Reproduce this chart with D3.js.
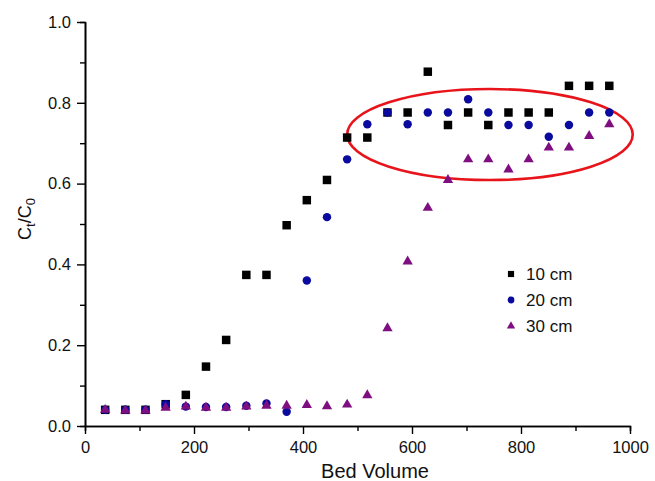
<!DOCTYPE html>
<html lang="en">
<head>
<meta charset="UTF-8">
<title>Breakthrough curves</title>
<script src="https://cdn.jsdelivr.net/npm/d3@7"></script>
<style>
    body { margin: 0; background: #fff; }
    text { font-family: "Liberation Sans", Arial, sans-serif; fill: #111; }
</style>
</head>
<body>
<div id="viz"></div>
<script>
    // bed volumes (shared by all three series)
    const bedVolume = [37, 74, 111, 148, 185, 222, 259, 296, 333, 370, 407, 444, 481,
                       518, 555, 592, 629, 666, 703, 740, 777, 814, 851, 888, 925, 962]

    // Ct/C0
    const cm10 = [0.040, 0.040, 0.040, 0.054, 0.077, 0.147, 0.213, 0.374, 0.374, 0.497, 0.559, 0.609, 0.714,
                  0.714, 0.776, 0.776, 0.877, 0.745, 0.776, 0.745, 0.776, 0.776, 0.776, 0.842, 0.842, 0.842]
    const cm20 = [0.040, 0.040, 0.040, 0.054, 0.048, 0.047, 0.047, 0.050, 0.056, 0.035, 0.360, 0.517, 0.660,
                  0.747, 0.776, 0.747, 0.776, 0.776, 0.809, 0.776, 0.745, 0.745, 0.716, 0.745, 0.776, 0.776]
    const cm30 = [0.040, 0.038, 0.038, 0.045, 0.048, 0.045, 0.045, 0.048, 0.050, 0.050, 0.052, 0.049, 0.053,
                  0.076, 0.242, 0.407, 0.540, 0.609, 0.660, 0.660, 0.635, 0.660, 0.689, 0.689, 0.718, 0.747]

    const seriesNames = ["10 cm", "20 cm", "30 cm"]
    const xTicks = [0, 200, 400, 600, 800, 1000]
    const yTicks = [0.0, 0.2, 0.4, 0.6, 0.8, 1.0]

    // highlighted region (data units): centre and radii
    const ellipseCentre = [743, 0.7215]
    const ellipseRadii = [262, 0.1126]

    const width = 655
    const height = 481
    const margin = {top: 22, left: 85, right: 25, bottom: 55}

    const svg = d3.select("#viz")
        .append("svg")
        .attr("width", width)
        .attr("height", height)

    const xScale = d3.scaleLinear()
        .domain([0, 1000])
        .range([margin.left, width - margin.right])
    const yScale = d3.scaleLinear()
        .domain([0, 1])
        .range([height - margin.bottom, margin.top])

    // minor ticks first, then major ones on top
    svg.append("g")
        .attr("transform", `translate(0,${height - margin.bottom})`)
        .call(d3.axisBottom(xScale).tickValues(d3.range(100, 1000, 200)).tickSize(5).tickFormat(""))
    svg.append("g")
        .attr("transform", `translate(${margin.left},0)`)
        .call(d3.axisLeft(yScale).tickValues(d3.range(0.1, 1, 0.2)).tickSize(5).tickFormat(""))

    const xAxis = svg.append("g")
        .attr("transform", `translate(0,${height - margin.bottom})`)
        .call(d3.axisBottom(xScale).tickValues(xTicks).tickSize(8).tickSizeOuter(0).tickPadding(7).tickFormat(d3.format("d")))
    const yAxis = svg.append("g")
        .attr("transform", `translate(${margin.left},0)`)
        .call(d3.axisLeft(yScale).tickValues(yTicks).tickSize(8).tickSizeOuter(0).tickPadding(6).tickFormat(d3.format(".1f")))

    svg.selectAll(".domain").attr("stroke", "#000").attr("stroke-width", 1.6)
    svg.selectAll(".tick line").attr("stroke", "#000").attr("stroke-width", 1.4)
    svg.selectAll(".tick text").style("font-size", "16.5px").attr("fill", "#111")

    // axis titles
    svg.append("text")
        .attr("x", 375)
        .attr("y", 478)
        .attr("text-anchor", "middle")
        .style("font-size", "20px")
        .text("Bed Volume")

    const yTitle = svg.append("text")
        .attr("transform", `translate(31,219) rotate(-90)`)
        .attr("text-anchor", "middle")
        .style("font-size", "18px")
    yTitle.append("tspan").text("C")
    yTitle.append("tspan").attr("dy", 4).style("font-size", "13px").text("t")
    yTitle.append("tspan").attr("dy", -4).text("/C")
    yTitle.append("tspan").attr("dy", 4).style("font-size", "13px").text("0")

    // red ellipse
    svg.append("ellipse")
        .attr("cx", xScale(ellipseCentre[0]))
        .attr("cy", yScale(ellipseCentre[1]))
        .attr("rx", xScale(ellipseRadii[0]) - xScale(0))
        .attr("ry", yScale(0) - yScale(ellipseRadii[1]))
        .attr("fill", "none")
        .attr("stroke", "#e8141b")
        .attr("stroke-width", 2.6)

    const series = [
        {name: seriesNames[0], values: cm10, symbol: d3.symbolSquare, size: 72, legendSize: 38, color: "#000000"},
        {name: seriesNames[1], values: cm20, symbol: d3.symbolCircle, size: 56, legendSize: 36, color: "#0a0a9e"},
        {name: seriesNames[2], values: cm30, symbol: d3.symbolTriangle, size: 46, legendSize: 30, color: "#7f0f80"}
    ]

    series.forEach(s => {
        const pts = bedVolume.map((v, i) => ({x: v, y: s.values[i]}))
        svg.selectAll(null)
            .data(pts)
            .enter()
            .append("path")
            .attr("d", d3.symbol().type(s.symbol).size(s.size))
            .attr("transform", d => `translate(${xScale(d.x)},${yScale(d.y)})`)
            .attr("fill", s.color)
    })

    // legend
    const legend = svg.append("g").attr("transform", "translate(511,274)")
    series.forEach((s, i) => {
        const row = legend.append("g").attr("transform", `translate(0,${i * 26})`)
        row.append("path")
            .attr("d", d3.symbol().type(s.symbol).size(s.legendSize))
            .attr("fill", s.color)
        row.append("text")
            .attr("x", 15)
            .attr("dy", "0.36em")
            .style("font-size", "17px")
            .text(s.name)
    })
</script>
</body>
</html>
